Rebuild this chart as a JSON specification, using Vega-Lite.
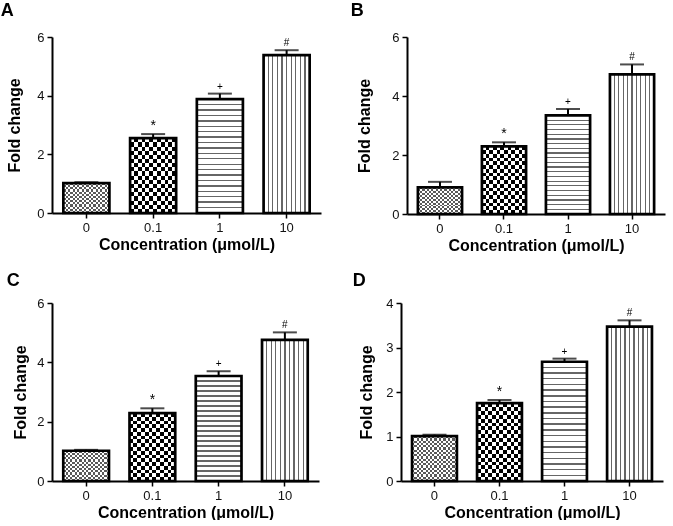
{
"$schema": "https://vega.github.io/schema/vega-lite/v6.json",
"background": "white",
"padding": {"left": 0, "top": 2, "right": 2, "bottom": 0},
"datasets": {
"bars": [
{"panel":"A","conc":"0","mean":1.02,"upper":1.05,"sig":""},
{"panel":"A","conc":"0.1","mean":2.55,"upper":2.69,"sig":"*"},
{"panel":"A","conc":"1","mean":3.88,"upper":4.07,"sig":"+"},
{"panel":"A","conc":"10","mean":5.38,"upper":5.55,"sig":"#"},
{"panel":"B","conc":"0","mean":0.90,"upper":1.09,"sig":""},
{"panel":"B","conc":"0.1","mean":2.29,"upper":2.43,"sig":"*"},
{"panel":"B","conc":"1","mean":3.34,"upper":3.56,"sig":"+"},
{"panel":"B","conc":"10","mean":4.73,"upper":5.07,"sig":"#"},
{"panel":"C","conc":"0","mean":1.02,"upper":1.05,"sig":""},
{"panel":"C","conc":"0.1","mean":2.29,"upper":2.45,"sig":"*"},
{"panel":"C","conc":"1","mean":3.54,"upper":3.70,"sig":"+"},
{"panel":"C","conc":"10","mean":4.76,"upper":5.01,"sig":"#"},
{"panel":"D","conc":"0","mean":1.01,"upper":1.04,"sig":""},
{"panel":"D","conc":"0.1","mean":1.75,"upper":1.82,"sig":"*"},
{"panel":"D","conc":"1","mean":2.68,"upper":2.75,"sig":"+"},
{"panel":"D","conc":"10","mean":3.47,"upper":3.61,"sig":"#"}
],
"notes": [
{"panel":"A","label":"n=6"},
{"panel":"B","label":"n=6"},
{"panel":"C","label":"n=6"},
{"panel":"D","label":"n=6"}
]
},
"vconcat": [
{"hconcat": [
{
"width": 269, "height": 176,
"title": {"text":"A","anchor":"start","fontSize":18,"fontWeight":"bold","offset":11,"dx":-6,"color":"#000"},
"data": {"name": "bars"},
"transform": [{"filter": "datum.panel === 'A'"}],
"encoding": {
"x": {"field":"conc","type":"nominal","sort":["0","0.1","1","10"],"scale":{"paddingInner":0.31,"paddingOuter":0.17},"axis":{"title":"Concentration (μmol/L)","labelAngle":0}},
"y": {"field":"mean","type":"quantitative","title":"Fold change","scale":{"domain":[0,6],"nice":false},"axis":{"values":[0,2,4,6],"titlePadding":14}}
},
"layer": [
{"transform":[{"filter":"datum.conc === '0'"}],"mark":{"type":"bar","fill":{"gradient":"linear","x1":0,"y1":0,"x2":1,"y2":0,"stops":[{"offset":0,"color":"#000"},{"offset":0.05,"color":"#000"},{"offset":0.05,"color":"#fff"},{"offset":0.1,"color":"#fff"},{"offset":0.1,"color":"#000"},{"offset":0.15,"color":"#000"},{"offset":0.15,"color":"#fff"},{"offset":0.2,"color":"#fff"},{"offset":0.2,"color":"#000"},{"offset":0.25,"color":"#000"},{"offset":0.25,"color":"#fff"},{"offset":0.3,"color":"#fff"},{"offset":0.3,"color":"#000"},{"offset":0.35,"color":"#000"},{"offset":0.35,"color":"#fff"},{"offset":0.4,"color":"#fff"},{"offset":0.4,"color":"#000"},{"offset":0.45,"color":"#000"},{"offset":0.45,"color":"#fff"},{"offset":0.5,"color":"#fff"},{"offset":0.5,"color":"#000"},{"offset":0.55,"color":"#000"},{"offset":0.55,"color":"#fff"},{"offset":0.6,"color":"#fff"},{"offset":0.6,"color":"#000"},{"offset":0.65,"color":"#000"},{"offset":0.65,"color":"#fff"},{"offset":0.7,"color":"#fff"},{"offset":0.7,"color":"#000"},{"offset":0.75,"color":"#000"},{"offset":0.75,"color":"#fff"},{"offset":0.8,"color":"#fff"},{"offset":0.8,"color":"#000"},{"offset":0.85,"color":"#000"},{"offset":0.85,"color":"#fff"},{"offset":0.9,"color":"#fff"},{"offset":0.9,"color":"#000"},{"offset":0.95,"color":"#000"},{"offset":0.95,"color":"#fff"},{"offset":1,"color":"#fff"}]}}},
{"transform":[{"filter":"datum.conc === '0'"}],"mark":{"type":"bar","blend":"difference","fill":{"gradient":"linear","x1":0,"y1":0,"x2":0,"y2":1,"stops":[{"offset":0,"color":"#fff"},{"offset":0.0714,"color":"#fff"},{"offset":0.0714,"color":"rgba(255,255,255,0)"},{"offset":0.1429,"color":"rgba(255,255,255,0)"},{"offset":0.1429,"color":"#fff"},{"offset":0.2143,"color":"#fff"},{"offset":0.2143,"color":"rgba(255,255,255,0)"},{"offset":0.2857,"color":"rgba(255,255,255,0)"},{"offset":0.2857,"color":"#fff"},{"offset":0.3571,"color":"#fff"},{"offset":0.3571,"color":"rgba(255,255,255,0)"},{"offset":0.4286,"color":"rgba(255,255,255,0)"},{"offset":0.4286,"color":"#fff"},{"offset":0.5,"color":"#fff"},{"offset":0.5,"color":"rgba(255,255,255,0)"},{"offset":0.5714,"color":"rgba(255,255,255,0)"},{"offset":0.5714,"color":"#fff"},{"offset":0.6429,"color":"#fff"},{"offset":0.6429,"color":"rgba(255,255,255,0)"},{"offset":0.7143,"color":"rgba(255,255,255,0)"},{"offset":0.7143,"color":"#fff"},{"offset":0.7857,"color":"#fff"},{"offset":0.7857,"color":"rgba(255,255,255,0)"},{"offset":0.8571,"color":"rgba(255,255,255,0)"},{"offset":0.8571,"color":"#fff"},{"offset":0.9286,"color":"#fff"},{"offset":0.9286,"color":"rgba(255,255,255,0)"},{"offset":1,"color":"rgba(255,255,255,0)"}]}}},
{"transform":[{"filter":"datum.conc === '0'"}],"mark":{"type":"bar","fill":"#fff","fillOpacity":0.35}},
{"transform":[{"filter":"datum.conc === '0.1'"}],"mark":{"type":"bar","fill":{"gradient":"linear","x1":0,"y1":0,"x2":1,"y2":0,"stops":[{"offset":0,"color":"#000"},{"offset":0.0833,"color":"#000"},{"offset":0.0833,"color":"#fff"},{"offset":0.1667,"color":"#fff"},{"offset":0.1667,"color":"#000"},{"offset":0.25,"color":"#000"},{"offset":0.25,"color":"#fff"},{"offset":0.3333,"color":"#fff"},{"offset":0.3333,"color":"#000"},{"offset":0.4167,"color":"#000"},{"offset":0.4167,"color":"#fff"},{"offset":0.5,"color":"#fff"},{"offset":0.5,"color":"#000"},{"offset":0.5833,"color":"#000"},{"offset":0.5833,"color":"#fff"},{"offset":0.6667,"color":"#fff"},{"offset":0.6667,"color":"#000"},{"offset":0.75,"color":"#000"},{"offset":0.75,"color":"#fff"},{"offset":0.8333,"color":"#fff"},{"offset":0.8333,"color":"#000"},{"offset":0.9167,"color":"#000"},{"offset":0.9167,"color":"#fff"},{"offset":1,"color":"#fff"}]}}},
{"transform":[{"filter":"datum.conc === '0.1'"}],"mark":{"type":"bar","blend":"difference","fill":{"gradient":"linear","x1":0,"y1":0,"x2":0,"y2":1,"stops":[{"offset":0,"color":"#fff"},{"offset":0.0556,"color":"#fff"},{"offset":0.0556,"color":"rgba(255,255,255,0)"},{"offset":0.1111,"color":"rgba(255,255,255,0)"},{"offset":0.1111,"color":"#fff"},{"offset":0.1667,"color":"#fff"},{"offset":0.1667,"color":"rgba(255,255,255,0)"},{"offset":0.2222,"color":"rgba(255,255,255,0)"},{"offset":0.2222,"color":"#fff"},{"offset":0.2778,"color":"#fff"},{"offset":0.2778,"color":"rgba(255,255,255,0)"},{"offset":0.3333,"color":"rgba(255,255,255,0)"},{"offset":0.3333,"color":"#fff"},{"offset":0.3889,"color":"#fff"},{"offset":0.3889,"color":"rgba(255,255,255,0)"},{"offset":0.4444,"color":"rgba(255,255,255,0)"},{"offset":0.4444,"color":"#fff"},{"offset":0.5,"color":"#fff"},{"offset":0.5,"color":"rgba(255,255,255,0)"},{"offset":0.5556,"color":"rgba(255,255,255,0)"},{"offset":0.5556,"color":"#fff"},{"offset":0.6111,"color":"#fff"},{"offset":0.6111,"color":"rgba(255,255,255,0)"},{"offset":0.6667,"color":"rgba(255,255,255,0)"},{"offset":0.6667,"color":"#fff"},{"offset":0.7222,"color":"#fff"},{"offset":0.7222,"color":"rgba(255,255,255,0)"},{"offset":0.7778,"color":"rgba(255,255,255,0)"},{"offset":0.7778,"color":"#fff"},{"offset":0.8333,"color":"#fff"},{"offset":0.8333,"color":"rgba(255,255,255,0)"},{"offset":0.8889,"color":"rgba(255,255,255,0)"},{"offset":0.8889,"color":"#fff"},{"offset":0.9444,"color":"#fff"},{"offset":0.9444,"color":"rgba(255,255,255,0)"},{"offset":1,"color":"rgba(255,255,255,0)"}]}}},
{"transform":[{"filter":"datum.conc === '1'"}],"mark":{"type":"bar","fill":{"gradient":"linear","x1":0,"y1":0,"x2":0,"y2":1,"stops":[{"offset":0,"color":"#fff"},{"offset":0.0416,"color":"#fff"},{"offset":0.0416,"color":"#666"},{"offset":0.0536,"color":"#666"},{"offset":0.0536,"color":"#fff"},{"offset":0.0892,"color":"#fff"},{"offset":0.0892,"color":"#666"},{"offset":0.1012,"color":"#666"},{"offset":0.1012,"color":"#fff"},{"offset":0.1369,"color":"#fff"},{"offset":0.1369,"color":"#666"},{"offset":0.1489,"color":"#666"},{"offset":0.1489,"color":"#fff"},{"offset":0.1845,"color":"#fff"},{"offset":0.1845,"color":"#666"},{"offset":0.1965,"color":"#666"},{"offset":0.1965,"color":"#fff"},{"offset":0.2321,"color":"#fff"},{"offset":0.2321,"color":"#666"},{"offset":0.2441,"color":"#666"},{"offset":0.2441,"color":"#fff"},{"offset":0.2797,"color":"#fff"},{"offset":0.2797,"color":"#666"},{"offset":0.2917,"color":"#666"},{"offset":0.2917,"color":"#fff"},{"offset":0.3273,"color":"#fff"},{"offset":0.3273,"color":"#666"},{"offset":0.3393,"color":"#666"},{"offset":0.3393,"color":"#fff"},{"offset":0.375,"color":"#fff"},{"offset":0.375,"color":"#666"},{"offset":0.387,"color":"#666"},{"offset":0.387,"color":"#fff"},{"offset":0.4226,"color":"#fff"},{"offset":0.4226,"color":"#666"},{"offset":0.4346,"color":"#666"},{"offset":0.4346,"color":"#fff"},{"offset":0.4702,"color":"#fff"},{"offset":0.4702,"color":"#666"},{"offset":0.4822,"color":"#666"},{"offset":0.4822,"color":"#fff"},{"offset":0.5178,"color":"#fff"},{"offset":0.5178,"color":"#666"},{"offset":0.5298,"color":"#666"},{"offset":0.5298,"color":"#fff"},{"offset":0.5654,"color":"#fff"},{"offset":0.5654,"color":"#666"},{"offset":0.5774,"color":"#666"},{"offset":0.5774,"color":"#fff"},{"offset":0.613,"color":"#fff"},{"offset":0.613,"color":"#666"},{"offset":0.625,"color":"#666"},{"offset":0.625,"color":"#fff"},{"offset":0.6607,"color":"#fff"},{"offset":0.6607,"color":"#666"},{"offset":0.6727,"color":"#666"},{"offset":0.6727,"color":"#fff"},{"offset":0.7083,"color":"#fff"},{"offset":0.7083,"color":"#666"},{"offset":0.7203,"color":"#666"},{"offset":0.7203,"color":"#fff"},{"offset":0.7559,"color":"#fff"},{"offset":0.7559,"color":"#666"},{"offset":0.7679,"color":"#666"},{"offset":0.7679,"color":"#fff"},{"offset":0.8035,"color":"#fff"},{"offset":0.8035,"color":"#666"},{"offset":0.8155,"color":"#666"},{"offset":0.8155,"color":"#fff"},{"offset":0.8511,"color":"#fff"},{"offset":0.8511,"color":"#666"},{"offset":0.8631,"color":"#666"},{"offset":0.8631,"color":"#fff"},{"offset":0.8988,"color":"#fff"},{"offset":0.8988,"color":"#666"},{"offset":0.9108,"color":"#666"},{"offset":0.9108,"color":"#fff"},{"offset":0.9464,"color":"#fff"},{"offset":0.9464,"color":"#666"},{"offset":0.9584,"color":"#666"},{"offset":0.9584,"color":"#fff"},{"offset":1,"color":"#fff"}]}}},
{"transform":[{"filter":"datum.conc === '10'"}],"mark":{"type":"bar","fill":{"gradient":"linear","x1":0,"y1":0,"x2":1,"y2":0,"stops":[{"offset":0,"color":"#fff"},{"offset":0.086,"color":"#fff"},{"offset":0.086,"color":"#666"},{"offset":0.114,"color":"#666"},{"offset":0.114,"color":"#fff"},{"offset":0.186,"color":"#fff"},{"offset":0.186,"color":"#666"},{"offset":0.214,"color":"#666"},{"offset":0.214,"color":"#fff"},{"offset":0.286,"color":"#fff"},{"offset":0.286,"color":"#666"},{"offset":0.314,"color":"#666"},{"offset":0.314,"color":"#fff"},{"offset":0.386,"color":"#fff"},{"offset":0.386,"color":"#666"},{"offset":0.414,"color":"#666"},{"offset":0.414,"color":"#fff"},{"offset":0.486,"color":"#fff"},{"offset":0.486,"color":"#666"},{"offset":0.514,"color":"#666"},{"offset":0.514,"color":"#fff"},{"offset":0.586,"color":"#fff"},{"offset":0.586,"color":"#666"},{"offset":0.614,"color":"#666"},{"offset":0.614,"color":"#fff"},{"offset":0.686,"color":"#fff"},{"offset":0.686,"color":"#666"},{"offset":0.714,"color":"#666"},{"offset":0.714,"color":"#fff"},{"offset":0.786,"color":"#fff"},{"offset":0.786,"color":"#666"},{"offset":0.814,"color":"#666"},{"offset":0.814,"color":"#fff"},{"offset":0.886,"color":"#fff"},{"offset":0.886,"color":"#666"},{"offset":0.914,"color":"#666"},{"offset":0.914,"color":"#fff"},{"offset":1,"color":"#fff"}]}}},
{"mark":{"type":"bar","fillOpacity":0,"stroke":"#000","strokeWidth":2.7}},
{"mark":{"type":"rule","color":"#000","strokeWidth":2},"encoding":{"y":{"field":"mean","type":"quantitative","title":"Fold change"},"y2":{"field":"upper"}}},
{"mark":{"type":"tick","color":"#000","thickness":2,"size":24},"encoding":{"y":{"field":"upper","type":"quantitative","title":"Fold change"}}},
{"mark":{"type":"text","baseline":"alphabetic","dy":-4,"color":"#000"},"encoding":{"y":{"field":"upper","type":"quantitative","title":"Fold change"},"text":{"field":"sig"},"size":{"condition":{"test":"datum.sig === '*'","value":14},"value":10}}},
{"data":{"name":"notes"},"transform":[{"filter":"datum.panel === 'A'"}],"mark":{"type":"text","fontSize":13,"dx":-2,"color":"#000"},"encoding":{"x":{"datum":"0"},"y":{"datum":5.73},"text":{"field":"label"}}}
]
},
{
"width": 258, "height": 177,
"title": {"text":"B","anchor":"start","fontSize":18,"fontWeight":"bold","offset":11,"dx":-6,"color":"#000"},
"data": {"name": "bars"},
"transform": [{"filter": "datum.panel === 'B'"}],
"encoding": {
"x": {"field":"conc","type":"nominal","sort":["0","0.1","1","10"],"scale":{"paddingInner":0.31,"paddingOuter":0.17},"axis":{"title":"Concentration (μmol/L)","labelAngle":0}},
"y": {"field":"mean","type":"quantitative","title":"Fold change","scale":{"domain":[0,6],"nice":false},"axis":{"values":[0,2,4,6],"titlePadding":19}}
},
"layer": [
{"transform":[{"filter":"datum.conc === '0'"}],"mark":{"type":"bar","fill":{"gradient":"linear","x1":0,"y1":0,"x2":1,"y2":0,"stops":[{"offset":0,"color":"#000"},{"offset":0.05,"color":"#000"},{"offset":0.05,"color":"#fff"},{"offset":0.1,"color":"#fff"},{"offset":0.1,"color":"#000"},{"offset":0.15,"color":"#000"},{"offset":0.15,"color":"#fff"},{"offset":0.2,"color":"#fff"},{"offset":0.2,"color":"#000"},{"offset":0.25,"color":"#000"},{"offset":0.25,"color":"#fff"},{"offset":0.3,"color":"#fff"},{"offset":0.3,"color":"#000"},{"offset":0.35,"color":"#000"},{"offset":0.35,"color":"#fff"},{"offset":0.4,"color":"#fff"},{"offset":0.4,"color":"#000"},{"offset":0.45,"color":"#000"},{"offset":0.45,"color":"#fff"},{"offset":0.5,"color":"#fff"},{"offset":0.5,"color":"#000"},{"offset":0.55,"color":"#000"},{"offset":0.55,"color":"#fff"},{"offset":0.6,"color":"#fff"},{"offset":0.6,"color":"#000"},{"offset":0.65,"color":"#000"},{"offset":0.65,"color":"#fff"},{"offset":0.7,"color":"#fff"},{"offset":0.7,"color":"#000"},{"offset":0.75,"color":"#000"},{"offset":0.75,"color":"#fff"},{"offset":0.8,"color":"#fff"},{"offset":0.8,"color":"#000"},{"offset":0.85,"color":"#000"},{"offset":0.85,"color":"#fff"},{"offset":0.9,"color":"#fff"},{"offset":0.9,"color":"#000"},{"offset":0.95,"color":"#000"},{"offset":0.95,"color":"#fff"},{"offset":1,"color":"#fff"}]}}},
{"transform":[{"filter":"datum.conc === '0'"}],"mark":{"type":"bar","blend":"difference","fill":{"gradient":"linear","x1":0,"y1":0,"x2":0,"y2":1,"stops":[{"offset":0,"color":"#fff"},{"offset":0.0714,"color":"#fff"},{"offset":0.0714,"color":"rgba(255,255,255,0)"},{"offset":0.1429,"color":"rgba(255,255,255,0)"},{"offset":0.1429,"color":"#fff"},{"offset":0.2143,"color":"#fff"},{"offset":0.2143,"color":"rgba(255,255,255,0)"},{"offset":0.2857,"color":"rgba(255,255,255,0)"},{"offset":0.2857,"color":"#fff"},{"offset":0.3571,"color":"#fff"},{"offset":0.3571,"color":"rgba(255,255,255,0)"},{"offset":0.4286,"color":"rgba(255,255,255,0)"},{"offset":0.4286,"color":"#fff"},{"offset":0.5,"color":"#fff"},{"offset":0.5,"color":"rgba(255,255,255,0)"},{"offset":0.5714,"color":"rgba(255,255,255,0)"},{"offset":0.5714,"color":"#fff"},{"offset":0.6429,"color":"#fff"},{"offset":0.6429,"color":"rgba(255,255,255,0)"},{"offset":0.7143,"color":"rgba(255,255,255,0)"},{"offset":0.7143,"color":"#fff"},{"offset":0.7857,"color":"#fff"},{"offset":0.7857,"color":"rgba(255,255,255,0)"},{"offset":0.8571,"color":"rgba(255,255,255,0)"},{"offset":0.8571,"color":"#fff"},{"offset":0.9286,"color":"#fff"},{"offset":0.9286,"color":"rgba(255,255,255,0)"},{"offset":1,"color":"rgba(255,255,255,0)"}]}}},
{"transform":[{"filter":"datum.conc === '0'"}],"mark":{"type":"bar","fill":"#fff","fillOpacity":0.35}},
{"transform":[{"filter":"datum.conc === '0.1'"}],"mark":{"type":"bar","fill":{"gradient":"linear","x1":0,"y1":0,"x2":1,"y2":0,"stops":[{"offset":0,"color":"#000"},{"offset":0.0833,"color":"#000"},{"offset":0.0833,"color":"#fff"},{"offset":0.1667,"color":"#fff"},{"offset":0.1667,"color":"#000"},{"offset":0.25,"color":"#000"},{"offset":0.25,"color":"#fff"},{"offset":0.3333,"color":"#fff"},{"offset":0.3333,"color":"#000"},{"offset":0.4167,"color":"#000"},{"offset":0.4167,"color":"#fff"},{"offset":0.5,"color":"#fff"},{"offset":0.5,"color":"#000"},{"offset":0.5833,"color":"#000"},{"offset":0.5833,"color":"#fff"},{"offset":0.6667,"color":"#fff"},{"offset":0.6667,"color":"#000"},{"offset":0.75,"color":"#000"},{"offset":0.75,"color":"#fff"},{"offset":0.8333,"color":"#fff"},{"offset":0.8333,"color":"#000"},{"offset":0.9167,"color":"#000"},{"offset":0.9167,"color":"#fff"},{"offset":1,"color":"#fff"}]}}},
{"transform":[{"filter":"datum.conc === '0.1'"}],"mark":{"type":"bar","blend":"difference","fill":{"gradient":"linear","x1":0,"y1":0,"x2":0,"y2":1,"stops":[{"offset":0,"color":"#fff"},{"offset":0.0556,"color":"#fff"},{"offset":0.0556,"color":"rgba(255,255,255,0)"},{"offset":0.1111,"color":"rgba(255,255,255,0)"},{"offset":0.1111,"color":"#fff"},{"offset":0.1667,"color":"#fff"},{"offset":0.1667,"color":"rgba(255,255,255,0)"},{"offset":0.2222,"color":"rgba(255,255,255,0)"},{"offset":0.2222,"color":"#fff"},{"offset":0.2778,"color":"#fff"},{"offset":0.2778,"color":"rgba(255,255,255,0)"},{"offset":0.3333,"color":"rgba(255,255,255,0)"},{"offset":0.3333,"color":"#fff"},{"offset":0.3889,"color":"#fff"},{"offset":0.3889,"color":"rgba(255,255,255,0)"},{"offset":0.4444,"color":"rgba(255,255,255,0)"},{"offset":0.4444,"color":"#fff"},{"offset":0.5,"color":"#fff"},{"offset":0.5,"color":"rgba(255,255,255,0)"},{"offset":0.5556,"color":"rgba(255,255,255,0)"},{"offset":0.5556,"color":"#fff"},{"offset":0.6111,"color":"#fff"},{"offset":0.6111,"color":"rgba(255,255,255,0)"},{"offset":0.6667,"color":"rgba(255,255,255,0)"},{"offset":0.6667,"color":"#fff"},{"offset":0.7222,"color":"#fff"},{"offset":0.7222,"color":"rgba(255,255,255,0)"},{"offset":0.7778,"color":"rgba(255,255,255,0)"},{"offset":0.7778,"color":"#fff"},{"offset":0.8333,"color":"#fff"},{"offset":0.8333,"color":"rgba(255,255,255,0)"},{"offset":0.8889,"color":"rgba(255,255,255,0)"},{"offset":0.8889,"color":"#fff"},{"offset":0.9444,"color":"#fff"},{"offset":0.9444,"color":"rgba(255,255,255,0)"},{"offset":1,"color":"rgba(255,255,255,0)"}]}}},
{"transform":[{"filter":"datum.conc === '1'"}],"mark":{"type":"bar","fill":{"gradient":"linear","x1":0,"y1":0,"x2":0,"y2":1,"stops":[{"offset":0,"color":"#fff"},{"offset":0.0416,"color":"#fff"},{"offset":0.0416,"color":"#666"},{"offset":0.0536,"color":"#666"},{"offset":0.0536,"color":"#fff"},{"offset":0.0892,"color":"#fff"},{"offset":0.0892,"color":"#666"},{"offset":0.1012,"color":"#666"},{"offset":0.1012,"color":"#fff"},{"offset":0.1369,"color":"#fff"},{"offset":0.1369,"color":"#666"},{"offset":0.1489,"color":"#666"},{"offset":0.1489,"color":"#fff"},{"offset":0.1845,"color":"#fff"},{"offset":0.1845,"color":"#666"},{"offset":0.1965,"color":"#666"},{"offset":0.1965,"color":"#fff"},{"offset":0.2321,"color":"#fff"},{"offset":0.2321,"color":"#666"},{"offset":0.2441,"color":"#666"},{"offset":0.2441,"color":"#fff"},{"offset":0.2797,"color":"#fff"},{"offset":0.2797,"color":"#666"},{"offset":0.2917,"color":"#666"},{"offset":0.2917,"color":"#fff"},{"offset":0.3273,"color":"#fff"},{"offset":0.3273,"color":"#666"},{"offset":0.3393,"color":"#666"},{"offset":0.3393,"color":"#fff"},{"offset":0.375,"color":"#fff"},{"offset":0.375,"color":"#666"},{"offset":0.387,"color":"#666"},{"offset":0.387,"color":"#fff"},{"offset":0.4226,"color":"#fff"},{"offset":0.4226,"color":"#666"},{"offset":0.4346,"color":"#666"},{"offset":0.4346,"color":"#fff"},{"offset":0.4702,"color":"#fff"},{"offset":0.4702,"color":"#666"},{"offset":0.4822,"color":"#666"},{"offset":0.4822,"color":"#fff"},{"offset":0.5178,"color":"#fff"},{"offset":0.5178,"color":"#666"},{"offset":0.5298,"color":"#666"},{"offset":0.5298,"color":"#fff"},{"offset":0.5654,"color":"#fff"},{"offset":0.5654,"color":"#666"},{"offset":0.5774,"color":"#666"},{"offset":0.5774,"color":"#fff"},{"offset":0.613,"color":"#fff"},{"offset":0.613,"color":"#666"},{"offset":0.625,"color":"#666"},{"offset":0.625,"color":"#fff"},{"offset":0.6607,"color":"#fff"},{"offset":0.6607,"color":"#666"},{"offset":0.6727,"color":"#666"},{"offset":0.6727,"color":"#fff"},{"offset":0.7083,"color":"#fff"},{"offset":0.7083,"color":"#666"},{"offset":0.7203,"color":"#666"},{"offset":0.7203,"color":"#fff"},{"offset":0.7559,"color":"#fff"},{"offset":0.7559,"color":"#666"},{"offset":0.7679,"color":"#666"},{"offset":0.7679,"color":"#fff"},{"offset":0.8035,"color":"#fff"},{"offset":0.8035,"color":"#666"},{"offset":0.8155,"color":"#666"},{"offset":0.8155,"color":"#fff"},{"offset":0.8511,"color":"#fff"},{"offset":0.8511,"color":"#666"},{"offset":0.8631,"color":"#666"},{"offset":0.8631,"color":"#fff"},{"offset":0.8988,"color":"#fff"},{"offset":0.8988,"color":"#666"},{"offset":0.9108,"color":"#666"},{"offset":0.9108,"color":"#fff"},{"offset":0.9464,"color":"#fff"},{"offset":0.9464,"color":"#666"},{"offset":0.9584,"color":"#666"},{"offset":0.9584,"color":"#fff"},{"offset":1,"color":"#fff"}]}}},
{"transform":[{"filter":"datum.conc === '10'"}],"mark":{"type":"bar","fill":{"gradient":"linear","x1":0,"y1":0,"x2":1,"y2":0,"stops":[{"offset":0,"color":"#fff"},{"offset":0.086,"color":"#fff"},{"offset":0.086,"color":"#666"},{"offset":0.114,"color":"#666"},{"offset":0.114,"color":"#fff"},{"offset":0.186,"color":"#fff"},{"offset":0.186,"color":"#666"},{"offset":0.214,"color":"#666"},{"offset":0.214,"color":"#fff"},{"offset":0.286,"color":"#fff"},{"offset":0.286,"color":"#666"},{"offset":0.314,"color":"#666"},{"offset":0.314,"color":"#fff"},{"offset":0.386,"color":"#fff"},{"offset":0.386,"color":"#666"},{"offset":0.414,"color":"#666"},{"offset":0.414,"color":"#fff"},{"offset":0.486,"color":"#fff"},{"offset":0.486,"color":"#666"},{"offset":0.514,"color":"#666"},{"offset":0.514,"color":"#fff"},{"offset":0.586,"color":"#fff"},{"offset":0.586,"color":"#666"},{"offset":0.614,"color":"#666"},{"offset":0.614,"color":"#fff"},{"offset":0.686,"color":"#fff"},{"offset":0.686,"color":"#666"},{"offset":0.714,"color":"#666"},{"offset":0.714,"color":"#fff"},{"offset":0.786,"color":"#fff"},{"offset":0.786,"color":"#666"},{"offset":0.814,"color":"#666"},{"offset":0.814,"color":"#fff"},{"offset":0.886,"color":"#fff"},{"offset":0.886,"color":"#666"},{"offset":0.914,"color":"#666"},{"offset":0.914,"color":"#fff"},{"offset":1,"color":"#fff"}]}}},
{"mark":{"type":"bar","fillOpacity":0,"stroke":"#000","strokeWidth":2.7}},
{"mark":{"type":"rule","color":"#000","strokeWidth":2},"encoding":{"y":{"field":"mean","type":"quantitative","title":"Fold change"},"y2":{"field":"upper"}}},
{"mark":{"type":"tick","color":"#000","thickness":2,"size":24},"encoding":{"y":{"field":"upper","type":"quantitative","title":"Fold change"}}},
{"mark":{"type":"text","baseline":"alphabetic","dy":-4,"color":"#000"},"encoding":{"y":{"field":"upper","type":"quantitative","title":"Fold change"},"text":{"field":"sig"},"size":{"condition":{"test":"datum.sig === '*'","value":14},"value":10}}},
{"data":{"name":"notes"},"transform":[{"filter":"datum.panel === 'B'"}],"mark":{"type":"text","fontSize":13,"dx":-5,"color":"#000"},"encoding":{"x":{"datum":"0"},"y":{"datum":5.73},"text":{"field":"label"}}}
]
}
], "spacing": 29},
{"hconcat": [
{
"width": 267, "height": 178,
"title": {"text":"C","anchor":"start","fontSize":18,"fontWeight":"bold","offset":7,"dx":-6,"color":"#000"},
"data": {"name": "bars"},
"transform": [{"filter": "datum.panel === 'C'"}],
"encoding": {
"x": {"field":"conc","type":"nominal","sort":["0","0.1","1","10"],"scale":{"paddingInner":0.31,"paddingOuter":0.17},"axis":{"title":"Concentration (μmol/L)","labelAngle":0}},
"y": {"field":"mean","type":"quantitative","title":"Fold change","scale":{"domain":[0,6],"nice":false},"axis":{"values":[0,2,4,6],"titlePadding":8}}
},
"layer": [
{"transform":[{"filter":"datum.conc === '0'"}],"mark":{"type":"bar","fill":{"gradient":"linear","x1":0,"y1":0,"x2":1,"y2":0,"stops":[{"offset":0,"color":"#000"},{"offset":0.05,"color":"#000"},{"offset":0.05,"color":"#fff"},{"offset":0.1,"color":"#fff"},{"offset":0.1,"color":"#000"},{"offset":0.15,"color":"#000"},{"offset":0.15,"color":"#fff"},{"offset":0.2,"color":"#fff"},{"offset":0.2,"color":"#000"},{"offset":0.25,"color":"#000"},{"offset":0.25,"color":"#fff"},{"offset":0.3,"color":"#fff"},{"offset":0.3,"color":"#000"},{"offset":0.35,"color":"#000"},{"offset":0.35,"color":"#fff"},{"offset":0.4,"color":"#fff"},{"offset":0.4,"color":"#000"},{"offset":0.45,"color":"#000"},{"offset":0.45,"color":"#fff"},{"offset":0.5,"color":"#fff"},{"offset":0.5,"color":"#000"},{"offset":0.55,"color":"#000"},{"offset":0.55,"color":"#fff"},{"offset":0.6,"color":"#fff"},{"offset":0.6,"color":"#000"},{"offset":0.65,"color":"#000"},{"offset":0.65,"color":"#fff"},{"offset":0.7,"color":"#fff"},{"offset":0.7,"color":"#000"},{"offset":0.75,"color":"#000"},{"offset":0.75,"color":"#fff"},{"offset":0.8,"color":"#fff"},{"offset":0.8,"color":"#000"},{"offset":0.85,"color":"#000"},{"offset":0.85,"color":"#fff"},{"offset":0.9,"color":"#fff"},{"offset":0.9,"color":"#000"},{"offset":0.95,"color":"#000"},{"offset":0.95,"color":"#fff"},{"offset":1,"color":"#fff"}]}}},
{"transform":[{"filter":"datum.conc === '0'"}],"mark":{"type":"bar","blend":"difference","fill":{"gradient":"linear","x1":0,"y1":0,"x2":0,"y2":1,"stops":[{"offset":0,"color":"#fff"},{"offset":0.0714,"color":"#fff"},{"offset":0.0714,"color":"rgba(255,255,255,0)"},{"offset":0.1429,"color":"rgba(255,255,255,0)"},{"offset":0.1429,"color":"#fff"},{"offset":0.2143,"color":"#fff"},{"offset":0.2143,"color":"rgba(255,255,255,0)"},{"offset":0.2857,"color":"rgba(255,255,255,0)"},{"offset":0.2857,"color":"#fff"},{"offset":0.3571,"color":"#fff"},{"offset":0.3571,"color":"rgba(255,255,255,0)"},{"offset":0.4286,"color":"rgba(255,255,255,0)"},{"offset":0.4286,"color":"#fff"},{"offset":0.5,"color":"#fff"},{"offset":0.5,"color":"rgba(255,255,255,0)"},{"offset":0.5714,"color":"rgba(255,255,255,0)"},{"offset":0.5714,"color":"#fff"},{"offset":0.6429,"color":"#fff"},{"offset":0.6429,"color":"rgba(255,255,255,0)"},{"offset":0.7143,"color":"rgba(255,255,255,0)"},{"offset":0.7143,"color":"#fff"},{"offset":0.7857,"color":"#fff"},{"offset":0.7857,"color":"rgba(255,255,255,0)"},{"offset":0.8571,"color":"rgba(255,255,255,0)"},{"offset":0.8571,"color":"#fff"},{"offset":0.9286,"color":"#fff"},{"offset":0.9286,"color":"rgba(255,255,255,0)"},{"offset":1,"color":"rgba(255,255,255,0)"}]}}},
{"transform":[{"filter":"datum.conc === '0'"}],"mark":{"type":"bar","fill":"#fff","fillOpacity":0.35}},
{"transform":[{"filter":"datum.conc === '0.1'"}],"mark":{"type":"bar","fill":{"gradient":"linear","x1":0,"y1":0,"x2":1,"y2":0,"stops":[{"offset":0,"color":"#000"},{"offset":0.0833,"color":"#000"},{"offset":0.0833,"color":"#fff"},{"offset":0.1667,"color":"#fff"},{"offset":0.1667,"color":"#000"},{"offset":0.25,"color":"#000"},{"offset":0.25,"color":"#fff"},{"offset":0.3333,"color":"#fff"},{"offset":0.3333,"color":"#000"},{"offset":0.4167,"color":"#000"},{"offset":0.4167,"color":"#fff"},{"offset":0.5,"color":"#fff"},{"offset":0.5,"color":"#000"},{"offset":0.5833,"color":"#000"},{"offset":0.5833,"color":"#fff"},{"offset":0.6667,"color":"#fff"},{"offset":0.6667,"color":"#000"},{"offset":0.75,"color":"#000"},{"offset":0.75,"color":"#fff"},{"offset":0.8333,"color":"#fff"},{"offset":0.8333,"color":"#000"},{"offset":0.9167,"color":"#000"},{"offset":0.9167,"color":"#fff"},{"offset":1,"color":"#fff"}]}}},
{"transform":[{"filter":"datum.conc === '0.1'"}],"mark":{"type":"bar","blend":"difference","fill":{"gradient":"linear","x1":0,"y1":0,"x2":0,"y2":1,"stops":[{"offset":0,"color":"#fff"},{"offset":0.0556,"color":"#fff"},{"offset":0.0556,"color":"rgba(255,255,255,0)"},{"offset":0.1111,"color":"rgba(255,255,255,0)"},{"offset":0.1111,"color":"#fff"},{"offset":0.1667,"color":"#fff"},{"offset":0.1667,"color":"rgba(255,255,255,0)"},{"offset":0.2222,"color":"rgba(255,255,255,0)"},{"offset":0.2222,"color":"#fff"},{"offset":0.2778,"color":"#fff"},{"offset":0.2778,"color":"rgba(255,255,255,0)"},{"offset":0.3333,"color":"rgba(255,255,255,0)"},{"offset":0.3333,"color":"#fff"},{"offset":0.3889,"color":"#fff"},{"offset":0.3889,"color":"rgba(255,255,255,0)"},{"offset":0.4444,"color":"rgba(255,255,255,0)"},{"offset":0.4444,"color":"#fff"},{"offset":0.5,"color":"#fff"},{"offset":0.5,"color":"rgba(255,255,255,0)"},{"offset":0.5556,"color":"rgba(255,255,255,0)"},{"offset":0.5556,"color":"#fff"},{"offset":0.6111,"color":"#fff"},{"offset":0.6111,"color":"rgba(255,255,255,0)"},{"offset":0.6667,"color":"rgba(255,255,255,0)"},{"offset":0.6667,"color":"#fff"},{"offset":0.7222,"color":"#fff"},{"offset":0.7222,"color":"rgba(255,255,255,0)"},{"offset":0.7778,"color":"rgba(255,255,255,0)"},{"offset":0.7778,"color":"#fff"},{"offset":0.8333,"color":"#fff"},{"offset":0.8333,"color":"rgba(255,255,255,0)"},{"offset":0.8889,"color":"rgba(255,255,255,0)"},{"offset":0.8889,"color":"#fff"},{"offset":0.9444,"color":"#fff"},{"offset":0.9444,"color":"rgba(255,255,255,0)"},{"offset":1,"color":"rgba(255,255,255,0)"}]}}},
{"transform":[{"filter":"datum.conc === '1'"}],"mark":{"type":"bar","fill":{"gradient":"linear","x1":0,"y1":0,"x2":0,"y2":1,"stops":[{"offset":0,"color":"#fff"},{"offset":0.0416,"color":"#fff"},{"offset":0.0416,"color":"#666"},{"offset":0.0536,"color":"#666"},{"offset":0.0536,"color":"#fff"},{"offset":0.0892,"color":"#fff"},{"offset":0.0892,"color":"#666"},{"offset":0.1012,"color":"#666"},{"offset":0.1012,"color":"#fff"},{"offset":0.1369,"color":"#fff"},{"offset":0.1369,"color":"#666"},{"offset":0.1489,"color":"#666"},{"offset":0.1489,"color":"#fff"},{"offset":0.1845,"color":"#fff"},{"offset":0.1845,"color":"#666"},{"offset":0.1965,"color":"#666"},{"offset":0.1965,"color":"#fff"},{"offset":0.2321,"color":"#fff"},{"offset":0.2321,"color":"#666"},{"offset":0.2441,"color":"#666"},{"offset":0.2441,"color":"#fff"},{"offset":0.2797,"color":"#fff"},{"offset":0.2797,"color":"#666"},{"offset":0.2917,"color":"#666"},{"offset":0.2917,"color":"#fff"},{"offset":0.3273,"color":"#fff"},{"offset":0.3273,"color":"#666"},{"offset":0.3393,"color":"#666"},{"offset":0.3393,"color":"#fff"},{"offset":0.375,"color":"#fff"},{"offset":0.375,"color":"#666"},{"offset":0.387,"color":"#666"},{"offset":0.387,"color":"#fff"},{"offset":0.4226,"color":"#fff"},{"offset":0.4226,"color":"#666"},{"offset":0.4346,"color":"#666"},{"offset":0.4346,"color":"#fff"},{"offset":0.4702,"color":"#fff"},{"offset":0.4702,"color":"#666"},{"offset":0.4822,"color":"#666"},{"offset":0.4822,"color":"#fff"},{"offset":0.5178,"color":"#fff"},{"offset":0.5178,"color":"#666"},{"offset":0.5298,"color":"#666"},{"offset":0.5298,"color":"#fff"},{"offset":0.5654,"color":"#fff"},{"offset":0.5654,"color":"#666"},{"offset":0.5774,"color":"#666"},{"offset":0.5774,"color":"#fff"},{"offset":0.613,"color":"#fff"},{"offset":0.613,"color":"#666"},{"offset":0.625,"color":"#666"},{"offset":0.625,"color":"#fff"},{"offset":0.6607,"color":"#fff"},{"offset":0.6607,"color":"#666"},{"offset":0.6727,"color":"#666"},{"offset":0.6727,"color":"#fff"},{"offset":0.7083,"color":"#fff"},{"offset":0.7083,"color":"#666"},{"offset":0.7203,"color":"#666"},{"offset":0.7203,"color":"#fff"},{"offset":0.7559,"color":"#fff"},{"offset":0.7559,"color":"#666"},{"offset":0.7679,"color":"#666"},{"offset":0.7679,"color":"#fff"},{"offset":0.8035,"color":"#fff"},{"offset":0.8035,"color":"#666"},{"offset":0.8155,"color":"#666"},{"offset":0.8155,"color":"#fff"},{"offset":0.8511,"color":"#fff"},{"offset":0.8511,"color":"#666"},{"offset":0.8631,"color":"#666"},{"offset":0.8631,"color":"#fff"},{"offset":0.8988,"color":"#fff"},{"offset":0.8988,"color":"#666"},{"offset":0.9108,"color":"#666"},{"offset":0.9108,"color":"#fff"},{"offset":0.9464,"color":"#fff"},{"offset":0.9464,"color":"#666"},{"offset":0.9584,"color":"#666"},{"offset":0.9584,"color":"#fff"},{"offset":1,"color":"#fff"}]}}},
{"transform":[{"filter":"datum.conc === '10'"}],"mark":{"type":"bar","fill":{"gradient":"linear","x1":0,"y1":0,"x2":1,"y2":0,"stops":[{"offset":0,"color":"#fff"},{"offset":0.086,"color":"#fff"},{"offset":0.086,"color":"#666"},{"offset":0.114,"color":"#666"},{"offset":0.114,"color":"#fff"},{"offset":0.186,"color":"#fff"},{"offset":0.186,"color":"#666"},{"offset":0.214,"color":"#666"},{"offset":0.214,"color":"#fff"},{"offset":0.286,"color":"#fff"},{"offset":0.286,"color":"#666"},{"offset":0.314,"color":"#666"},{"offset":0.314,"color":"#fff"},{"offset":0.386,"color":"#fff"},{"offset":0.386,"color":"#666"},{"offset":0.414,"color":"#666"},{"offset":0.414,"color":"#fff"},{"offset":0.486,"color":"#fff"},{"offset":0.486,"color":"#666"},{"offset":0.514,"color":"#666"},{"offset":0.514,"color":"#fff"},{"offset":0.586,"color":"#fff"},{"offset":0.586,"color":"#666"},{"offset":0.614,"color":"#666"},{"offset":0.614,"color":"#fff"},{"offset":0.686,"color":"#fff"},{"offset":0.686,"color":"#666"},{"offset":0.714,"color":"#666"},{"offset":0.714,"color":"#fff"},{"offset":0.786,"color":"#fff"},{"offset":0.786,"color":"#666"},{"offset":0.814,"color":"#666"},{"offset":0.814,"color":"#fff"},{"offset":0.886,"color":"#fff"},{"offset":0.886,"color":"#666"},{"offset":0.914,"color":"#666"},{"offset":0.914,"color":"#fff"},{"offset":1,"color":"#fff"}]}}},
{"mark":{"type":"bar","fillOpacity":0,"stroke":"#000","strokeWidth":2.7}},
{"mark":{"type":"rule","color":"#000","strokeWidth":2},"encoding":{"y":{"field":"mean","type":"quantitative","title":"Fold change"},"y2":{"field":"upper"}}},
{"mark":{"type":"tick","color":"#000","thickness":2,"size":24},"encoding":{"y":{"field":"upper","type":"quantitative","title":"Fold change"}}},
{"mark":{"type":"text","baseline":"alphabetic","dy":-4,"color":"#000"},"encoding":{"y":{"field":"upper","type":"quantitative","title":"Fold change"},"text":{"field":"sig"},"size":{"condition":{"test":"datum.sig === '*'","value":14},"value":10}}},
{"data":{"name":"notes"},"transform":[{"filter":"datum.panel === 'C'"}],"mark":{"type":"text","fontSize":13,"dx":-2,"color":"#000"},"encoding":{"x":{"datum":"0"},"y":{"datum":5.72},"text":{"field":"label"}}}
]
},
{
"width": 262, "height": 178,
"title": {"text":"D","anchor":"start","fontSize":18,"fontWeight":"bold","offset":7,"dx":-6,"color":"#000"},
"data": {"name": "bars"},
"transform": [{"filter": "datum.panel === 'D'"}],
"encoding": {
"x": {"field":"conc","type":"nominal","sort":["0","0.1","1","10"],"scale":{"paddingInner":0.31,"paddingOuter":0.17},"axis":{"title":"Concentration (μmol/L)","labelAngle":0}},
"y": {"field":"mean","type":"quantitative","title":"Fold change","scale":{"domain":[0,4],"nice":false},"axis":{"values":[0,1,2,3,4],"titlePadding":11}}
},
"layer": [
{"transform":[{"filter":"datum.conc === '0'"}],"mark":{"type":"bar","fill":{"gradient":"linear","x1":0,"y1":0,"x2":1,"y2":0,"stops":[{"offset":0,"color":"#000"},{"offset":0.05,"color":"#000"},{"offset":0.05,"color":"#fff"},{"offset":0.1,"color":"#fff"},{"offset":0.1,"color":"#000"},{"offset":0.15,"color":"#000"},{"offset":0.15,"color":"#fff"},{"offset":0.2,"color":"#fff"},{"offset":0.2,"color":"#000"},{"offset":0.25,"color":"#000"},{"offset":0.25,"color":"#fff"},{"offset":0.3,"color":"#fff"},{"offset":0.3,"color":"#000"},{"offset":0.35,"color":"#000"},{"offset":0.35,"color":"#fff"},{"offset":0.4,"color":"#fff"},{"offset":0.4,"color":"#000"},{"offset":0.45,"color":"#000"},{"offset":0.45,"color":"#fff"},{"offset":0.5,"color":"#fff"},{"offset":0.5,"color":"#000"},{"offset":0.55,"color":"#000"},{"offset":0.55,"color":"#fff"},{"offset":0.6,"color":"#fff"},{"offset":0.6,"color":"#000"},{"offset":0.65,"color":"#000"},{"offset":0.65,"color":"#fff"},{"offset":0.7,"color":"#fff"},{"offset":0.7,"color":"#000"},{"offset":0.75,"color":"#000"},{"offset":0.75,"color":"#fff"},{"offset":0.8,"color":"#fff"},{"offset":0.8,"color":"#000"},{"offset":0.85,"color":"#000"},{"offset":0.85,"color":"#fff"},{"offset":0.9,"color":"#fff"},{"offset":0.9,"color":"#000"},{"offset":0.95,"color":"#000"},{"offset":0.95,"color":"#fff"},{"offset":1,"color":"#fff"}]}}},
{"transform":[{"filter":"datum.conc === '0'"}],"mark":{"type":"bar","blend":"difference","fill":{"gradient":"linear","x1":0,"y1":0,"x2":0,"y2":1,"stops":[{"offset":0,"color":"#fff"},{"offset":0.05,"color":"#fff"},{"offset":0.05,"color":"rgba(255,255,255,0)"},{"offset":0.1,"color":"rgba(255,255,255,0)"},{"offset":0.1,"color":"#fff"},{"offset":0.15,"color":"#fff"},{"offset":0.15,"color":"rgba(255,255,255,0)"},{"offset":0.2,"color":"rgba(255,255,255,0)"},{"offset":0.2,"color":"#fff"},{"offset":0.25,"color":"#fff"},{"offset":0.25,"color":"rgba(255,255,255,0)"},{"offset":0.3,"color":"rgba(255,255,255,0)"},{"offset":0.3,"color":"#fff"},{"offset":0.35,"color":"#fff"},{"offset":0.35,"color":"rgba(255,255,255,0)"},{"offset":0.4,"color":"rgba(255,255,255,0)"},{"offset":0.4,"color":"#fff"},{"offset":0.45,"color":"#fff"},{"offset":0.45,"color":"rgba(255,255,255,0)"},{"offset":0.5,"color":"rgba(255,255,255,0)"},{"offset":0.5,"color":"#fff"},{"offset":0.55,"color":"#fff"},{"offset":0.55,"color":"rgba(255,255,255,0)"},{"offset":0.6,"color":"rgba(255,255,255,0)"},{"offset":0.6,"color":"#fff"},{"offset":0.65,"color":"#fff"},{"offset":0.65,"color":"rgba(255,255,255,0)"},{"offset":0.7,"color":"rgba(255,255,255,0)"},{"offset":0.7,"color":"#fff"},{"offset":0.75,"color":"#fff"},{"offset":0.75,"color":"rgba(255,255,255,0)"},{"offset":0.8,"color":"rgba(255,255,255,0)"},{"offset":0.8,"color":"#fff"},{"offset":0.85,"color":"#fff"},{"offset":0.85,"color":"rgba(255,255,255,0)"},{"offset":0.9,"color":"rgba(255,255,255,0)"},{"offset":0.9,"color":"#fff"},{"offset":0.95,"color":"#fff"},{"offset":0.95,"color":"rgba(255,255,255,0)"},{"offset":1,"color":"rgba(255,255,255,0)"}]}}},
{"transform":[{"filter":"datum.conc === '0'"}],"mark":{"type":"bar","fill":"#fff","fillOpacity":0.35}},
{"transform":[{"filter":"datum.conc === '0.1'"}],"mark":{"type":"bar","fill":{"gradient":"linear","x1":0,"y1":0,"x2":1,"y2":0,"stops":[{"offset":0,"color":"#000"},{"offset":0.0833,"color":"#000"},{"offset":0.0833,"color":"#fff"},{"offset":0.1667,"color":"#fff"},{"offset":0.1667,"color":"#000"},{"offset":0.25,"color":"#000"},{"offset":0.25,"color":"#fff"},{"offset":0.3333,"color":"#fff"},{"offset":0.3333,"color":"#000"},{"offset":0.4167,"color":"#000"},{"offset":0.4167,"color":"#fff"},{"offset":0.5,"color":"#fff"},{"offset":0.5,"color":"#000"},{"offset":0.5833,"color":"#000"},{"offset":0.5833,"color":"#fff"},{"offset":0.6667,"color":"#fff"},{"offset":0.6667,"color":"#000"},{"offset":0.75,"color":"#000"},{"offset":0.75,"color":"#fff"},{"offset":0.8333,"color":"#fff"},{"offset":0.8333,"color":"#000"},{"offset":0.9167,"color":"#000"},{"offset":0.9167,"color":"#fff"},{"offset":1,"color":"#fff"}]}}},
{"transform":[{"filter":"datum.conc === '0.1'"}],"mark":{"type":"bar","blend":"difference","fill":{"gradient":"linear","x1":0,"y1":0,"x2":0,"y2":1,"stops":[{"offset":0,"color":"#fff"},{"offset":0.05,"color":"#fff"},{"offset":0.05,"color":"rgba(255,255,255,0)"},{"offset":0.1,"color":"rgba(255,255,255,0)"},{"offset":0.1,"color":"#fff"},{"offset":0.15,"color":"#fff"},{"offset":0.15,"color":"rgba(255,255,255,0)"},{"offset":0.2,"color":"rgba(255,255,255,0)"},{"offset":0.2,"color":"#fff"},{"offset":0.25,"color":"#fff"},{"offset":0.25,"color":"rgba(255,255,255,0)"},{"offset":0.3,"color":"rgba(255,255,255,0)"},{"offset":0.3,"color":"#fff"},{"offset":0.35,"color":"#fff"},{"offset":0.35,"color":"rgba(255,255,255,0)"},{"offset":0.4,"color":"rgba(255,255,255,0)"},{"offset":0.4,"color":"#fff"},{"offset":0.45,"color":"#fff"},{"offset":0.45,"color":"rgba(255,255,255,0)"},{"offset":0.5,"color":"rgba(255,255,255,0)"},{"offset":0.5,"color":"#fff"},{"offset":0.55,"color":"#fff"},{"offset":0.55,"color":"rgba(255,255,255,0)"},{"offset":0.6,"color":"rgba(255,255,255,0)"},{"offset":0.6,"color":"#fff"},{"offset":0.65,"color":"#fff"},{"offset":0.65,"color":"rgba(255,255,255,0)"},{"offset":0.7,"color":"rgba(255,255,255,0)"},{"offset":0.7,"color":"#fff"},{"offset":0.75,"color":"#fff"},{"offset":0.75,"color":"rgba(255,255,255,0)"},{"offset":0.8,"color":"rgba(255,255,255,0)"},{"offset":0.8,"color":"#fff"},{"offset":0.85,"color":"#fff"},{"offset":0.85,"color":"rgba(255,255,255,0)"},{"offset":0.9,"color":"rgba(255,255,255,0)"},{"offset":0.9,"color":"#fff"},{"offset":0.95,"color":"#fff"},{"offset":0.95,"color":"rgba(255,255,255,0)"},{"offset":1,"color":"rgba(255,255,255,0)"}]}}},
{"transform":[{"filter":"datum.conc === '1'"}],"mark":{"type":"bar","fill":{"gradient":"linear","x1":0,"y1":0,"x2":0,"y2":1,"stops":[{"offset":0,"color":"#fff"},{"offset":0.0416,"color":"#fff"},{"offset":0.0416,"color":"#666"},{"offset":0.0536,"color":"#666"},{"offset":0.0536,"color":"#fff"},{"offset":0.0892,"color":"#fff"},{"offset":0.0892,"color":"#666"},{"offset":0.1012,"color":"#666"},{"offset":0.1012,"color":"#fff"},{"offset":0.1369,"color":"#fff"},{"offset":0.1369,"color":"#666"},{"offset":0.1489,"color":"#666"},{"offset":0.1489,"color":"#fff"},{"offset":0.1845,"color":"#fff"},{"offset":0.1845,"color":"#666"},{"offset":0.1965,"color":"#666"},{"offset":0.1965,"color":"#fff"},{"offset":0.2321,"color":"#fff"},{"offset":0.2321,"color":"#666"},{"offset":0.2441,"color":"#666"},{"offset":0.2441,"color":"#fff"},{"offset":0.2797,"color":"#fff"},{"offset":0.2797,"color":"#666"},{"offset":0.2917,"color":"#666"},{"offset":0.2917,"color":"#fff"},{"offset":0.3273,"color":"#fff"},{"offset":0.3273,"color":"#666"},{"offset":0.3393,"color":"#666"},{"offset":0.3393,"color":"#fff"},{"offset":0.375,"color":"#fff"},{"offset":0.375,"color":"#666"},{"offset":0.387,"color":"#666"},{"offset":0.387,"color":"#fff"},{"offset":0.4226,"color":"#fff"},{"offset":0.4226,"color":"#666"},{"offset":0.4346,"color":"#666"},{"offset":0.4346,"color":"#fff"},{"offset":0.4702,"color":"#fff"},{"offset":0.4702,"color":"#666"},{"offset":0.4822,"color":"#666"},{"offset":0.4822,"color":"#fff"},{"offset":0.5178,"color":"#fff"},{"offset":0.5178,"color":"#666"},{"offset":0.5298,"color":"#666"},{"offset":0.5298,"color":"#fff"},{"offset":0.5654,"color":"#fff"},{"offset":0.5654,"color":"#666"},{"offset":0.5774,"color":"#666"},{"offset":0.5774,"color":"#fff"},{"offset":0.613,"color":"#fff"},{"offset":0.613,"color":"#666"},{"offset":0.625,"color":"#666"},{"offset":0.625,"color":"#fff"},{"offset":0.6607,"color":"#fff"},{"offset":0.6607,"color":"#666"},{"offset":0.6727,"color":"#666"},{"offset":0.6727,"color":"#fff"},{"offset":0.7083,"color":"#fff"},{"offset":0.7083,"color":"#666"},{"offset":0.7203,"color":"#666"},{"offset":0.7203,"color":"#fff"},{"offset":0.7559,"color":"#fff"},{"offset":0.7559,"color":"#666"},{"offset":0.7679,"color":"#666"},{"offset":0.7679,"color":"#fff"},{"offset":0.8035,"color":"#fff"},{"offset":0.8035,"color":"#666"},{"offset":0.8155,"color":"#666"},{"offset":0.8155,"color":"#fff"},{"offset":0.8511,"color":"#fff"},{"offset":0.8511,"color":"#666"},{"offset":0.8631,"color":"#666"},{"offset":0.8631,"color":"#fff"},{"offset":0.8988,"color":"#fff"},{"offset":0.8988,"color":"#666"},{"offset":0.9108,"color":"#666"},{"offset":0.9108,"color":"#fff"},{"offset":0.9464,"color":"#fff"},{"offset":0.9464,"color":"#666"},{"offset":0.9584,"color":"#666"},{"offset":0.9584,"color":"#fff"},{"offset":1,"color":"#fff"}]}}},
{"transform":[{"filter":"datum.conc === '10'"}],"mark":{"type":"bar","fill":{"gradient":"linear","x1":0,"y1":0,"x2":1,"y2":0,"stops":[{"offset":0,"color":"#fff"},{"offset":0.086,"color":"#fff"},{"offset":0.086,"color":"#666"},{"offset":0.114,"color":"#666"},{"offset":0.114,"color":"#fff"},{"offset":0.186,"color":"#fff"},{"offset":0.186,"color":"#666"},{"offset":0.214,"color":"#666"},{"offset":0.214,"color":"#fff"},{"offset":0.286,"color":"#fff"},{"offset":0.286,"color":"#666"},{"offset":0.314,"color":"#666"},{"offset":0.314,"color":"#fff"},{"offset":0.386,"color":"#fff"},{"offset":0.386,"color":"#666"},{"offset":0.414,"color":"#666"},{"offset":0.414,"color":"#fff"},{"offset":0.486,"color":"#fff"},{"offset":0.486,"color":"#666"},{"offset":0.514,"color":"#666"},{"offset":0.514,"color":"#fff"},{"offset":0.586,"color":"#fff"},{"offset":0.586,"color":"#666"},{"offset":0.614,"color":"#666"},{"offset":0.614,"color":"#fff"},{"offset":0.686,"color":"#fff"},{"offset":0.686,"color":"#666"},{"offset":0.714,"color":"#666"},{"offset":0.714,"color":"#fff"},{"offset":0.786,"color":"#fff"},{"offset":0.786,"color":"#666"},{"offset":0.814,"color":"#666"},{"offset":0.814,"color":"#fff"},{"offset":0.886,"color":"#fff"},{"offset":0.886,"color":"#666"},{"offset":0.914,"color":"#666"},{"offset":0.914,"color":"#fff"},{"offset":1,"color":"#fff"}]}}},
{"mark":{"type":"bar","fillOpacity":0,"stroke":"#000","strokeWidth":2.7}},
{"mark":{"type":"rule","color":"#000","strokeWidth":2},"encoding":{"y":{"field":"mean","type":"quantitative","title":"Fold change"},"y2":{"field":"upper"}}},
{"mark":{"type":"tick","color":"#000","thickness":2,"size":24},"encoding":{"y":{"field":"upper","type":"quantitative","title":"Fold change"}}},
{"mark":{"type":"text","baseline":"alphabetic","dy":-4,"color":"#000"},"encoding":{"y":{"field":"upper","type":"quantitative","title":"Fold change"},"text":{"field":"sig"},"size":{"condition":{"test":"datum.sig === '*'","value":14},"value":10}}},
{"data":{"name":"notes"},"transform":[{"filter":"datum.panel === 'D'"}],"mark":{"type":"text","fontSize":13,"dx":-7,"color":"#000"},"encoding":{"x":{"datum":"0"},"y":{"datum":3.75},"text":{"field":"label"}}}
]
}
], "spacing": 33}
],
"spacing": 19,
"config": {
"font": "Liberation Sans",
"view": {"stroke": null},
"axis": {"domainColor":"#000","domainWidth":2,"tickColor":"#000","tickWidth":1.5,"tickSize":5,"labelFontSize":13,"labelColor":"#111","labelPadding":3,"titleFontSize":16,"titleFontWeight":"bold","titleColor":"#000","grid":false},
"axisX": {"titlePadding": 2}
}
}
